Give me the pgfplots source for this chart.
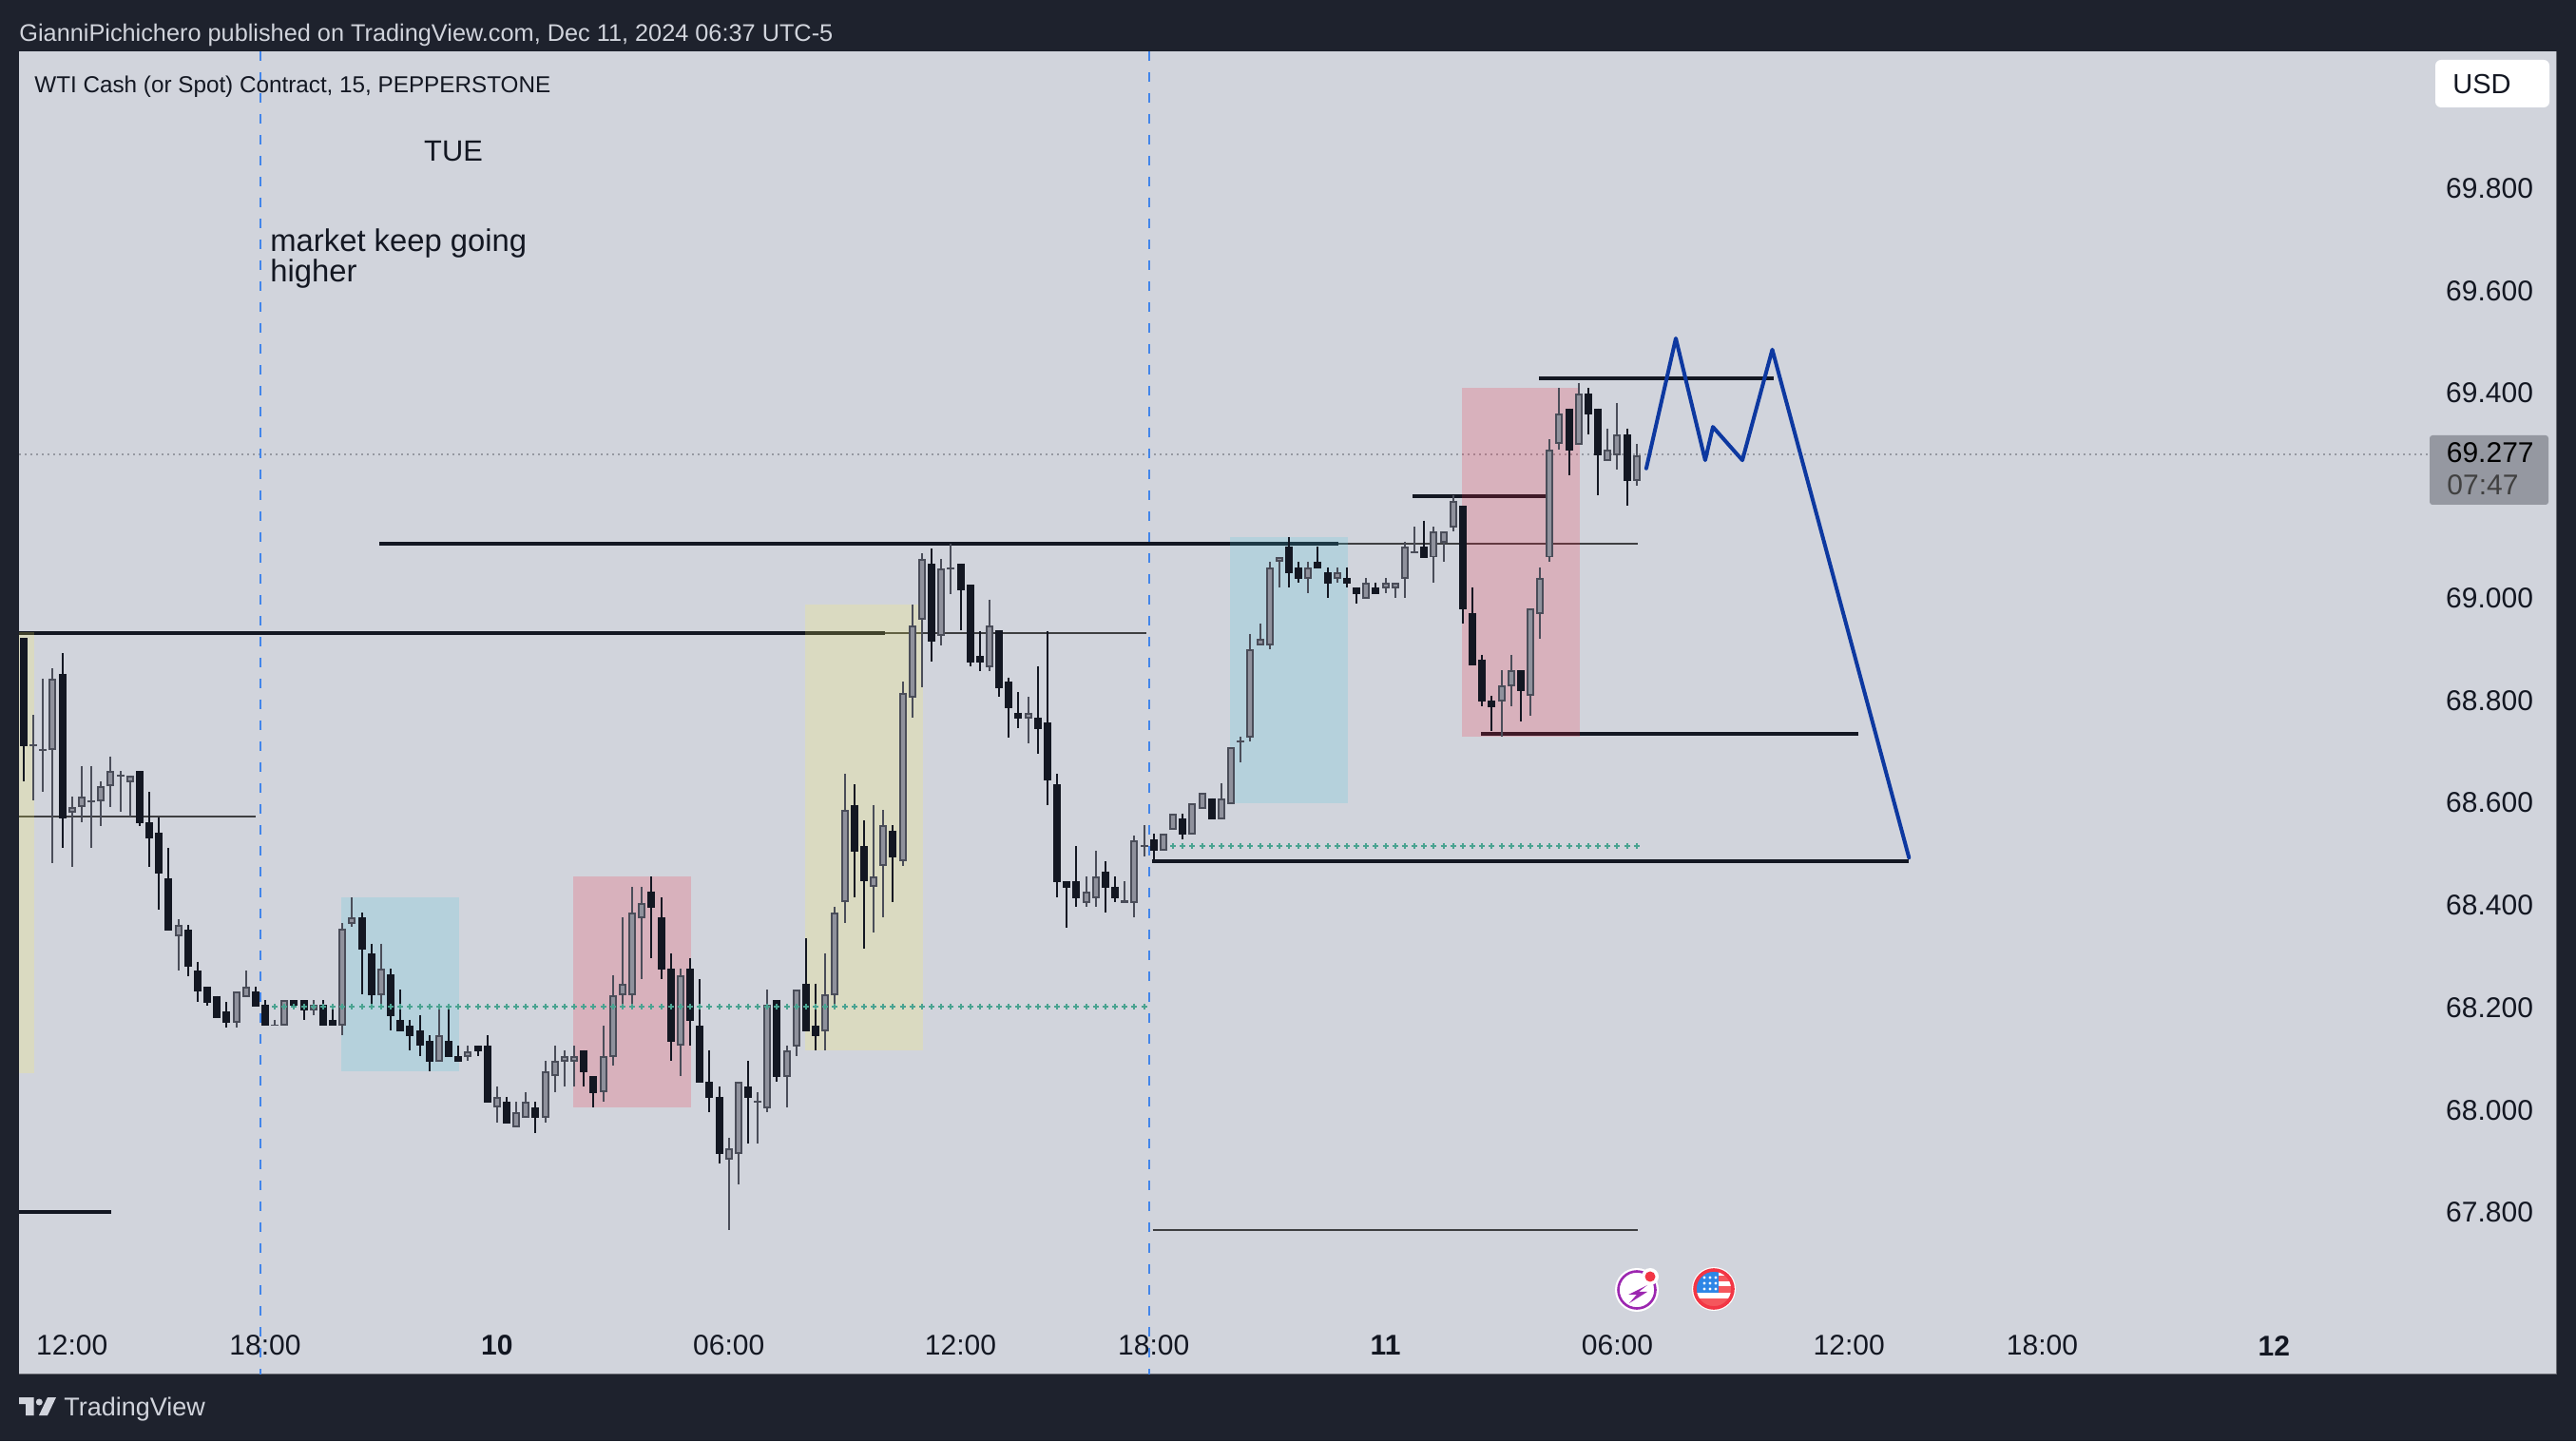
\documentclass[border=0pt]{standalone}
\usepackage{fontspec}
\setmainfont{Liberation Sans}
\usepackage{pgfplots}
\usepackage{pgfplotstable}
\pgfplotsset{compat=1.18}
\definecolor{outer}{HTML}{1E222D}
\definecolor{panel}{HTML}{D1D4DC}
\definecolor{ink}{HTML}{131722}
\definecolor{upedge}{HTML}{4A4D59}
\definecolor{upfill}{HTML}{8F919C}
\definecolor{teal}{HTML}{4AA391}
\definecolor{dashblue}{HTML}{4285EA}
\definecolor{navy}{HTML}{0D38A0}
\definecolor{zred}{RGB}{246,37,61}
\definecolor{zcyan}{RGB}{70,197,220}
\definecolor{zyel}{RGB}{255,243,85}
\definecolor{thin}{HTML}{4A4C58}
\definecolor{lastp}{HTML}{9598A1}
\definecolor{iconp}{HTML}{9C27B0}
\definecolor{iconr}{HTML}{F23645}
\definecolor{iconb}{HTML}{2E86E6}
\definecolor{iconl}{HTML}{F5565C}
\pgfplotstableread{
i h t b l
0 68.919 68.919 68.708 68.639
4 68.889 68.849 68.567 68.509
12 68.659 68.659 68.557 68.551
13 68.618 68.559 68.527 68.471
14 68.568 68.539 68.458 68.389
15 68.509 68.450 68.348 68.348
17 68.358 68.349 68.277 68.259
18 68.287 68.269 68.228 68.209
19 68.238 68.238 68.207 68.200
20 68.220 68.220 68.177 68.177
21 68.208 68.190 68.168 68.158
24 68.238 68.228 68.198 68.198
25 68.211 68.202 68.161 68.161
28 68.211 68.211 68.201 68.201
29 68.211 68.211 68.192 68.173
31 68.211 68.202 68.161 68.161
32 68.193 68.173 68.161 68.161
35 68.382 68.373 68.311 68.223
36 68.322 68.303 68.221 68.201
38 68.273 68.262 68.181 68.153
39 68.232 68.173 68.151 68.151
40 68.173 68.162 68.142 68.114
41 68.183 68.153 68.122 68.103
42 68.143 68.132 68.091 68.073
44 68.193 68.132 68.101 68.101
45 68.123 68.102 68.091 68.091
47 68.123 68.123 68.112 68.103
48 68.143 68.123 68.011 68.011
50 68.023 68.013 67.971 67.971
53 68.013 68.002 67.981 67.952
58 68.114 68.114 68.071 68.043
59 68.063 68.063 68.030 68.002
65 68.453 68.424 68.392 68.294
66 68.412 68.373 68.271 68.253
67 68.303 68.273 68.130 68.093
69 68.294 68.273 68.171 68.123
70 68.253 68.162 68.050 68.050
71 68.114 68.052 68.021 67.993
72 68.043 68.023 67.911 67.893
75 68.093 68.043 68.021 67.932
78 68.212 68.212 68.062 68.052
81 68.333 68.244 68.151 68.151
82 68.244 68.162 68.141 68.114
86 68.633 68.593 68.502 68.413
87 68.562 68.512 68.443 68.313
90 68.553 68.542 68.491 68.404
94 69.093 69.064 68.912 68.873
97 69.064 69.064 69.012 68.934
98 69.023 69.023 68.871 68.864
99 68.933 68.884 68.871 68.854
101 68.934 68.934 68.821 68.804
102 68.842 68.834 68.782 68.724
103 68.813 68.773 68.761 68.743
105 68.864 68.763 68.741 68.693
106 68.933 68.754 68.641 68.593
107 68.653 68.633 68.442 68.413
108 68.444 68.444 68.431 68.353
109 68.512 68.444 68.411 68.394
112 68.482 68.463 68.431 68.383
113 68.453 68.433 68.411 68.403
117 68.537 68.526 68.503 68.483
120 68.575 68.566 68.535 68.526
123 68.606 68.606 68.565 68.565
131 69.116 69.097 69.045 69.018
132 69.068 69.057 69.034 69.027
134 69.097 69.068 69.055 69.055
135 69.057 69.047 69.025 68.997
137 69.057 69.036 69.025 69.018
138 69.018 69.018 69.005 68.986
140 69.027 69.018 69.005 69.005
145 69.148 69.097 69.075 69.075
149 69.177 69.177 68.975 68.947
150 69.018 68.968 68.865 68.865
151 68.886 68.877 68.795 68.786
152 68.806 68.797 68.784 68.737
155 68.856 68.856 68.815 68.756
160 69.367 69.367 69.285 69.237
162 69.407 69.396 69.355 69.316
163 69.367 69.367 69.276 69.198
166 69.328 69.316 69.226 69.177
}\downbars
\pgfplotstableread{
i h t b l
1 68.768 68.712 68.708 68.601
2 68.839 68.702 68.698 68.619
3 68.859 68.839 68.700 68.480
5 68.609 68.588 68.578 68.471
6 68.669 68.609 68.588 68.559
7 68.669 68.602 68.598 68.509
8 68.639 68.629 68.599 68.551
9 68.688 68.659 68.629 68.589
10 68.659 68.652 68.648 68.580
11 68.650 68.650 68.637 68.571
16 68.369 68.358 68.337 68.270
22 68.228 68.228 68.168 68.158
23 68.269 68.238 68.218 68.218
26 68.173 68.164 68.161 68.161
27 68.211 68.211 68.161 68.161
30 68.211 68.202 68.192 68.183
33 68.362 68.352 68.161 68.143
34 68.412 68.373 68.360 68.354
37 68.322 68.273 68.221 68.193
43 68.193 68.143 68.091 68.091
46 68.123 68.112 68.101 68.094
49 68.043 68.022 68.002 67.973
51 68.013 67.992 67.963 67.963
52 68.032 68.013 67.981 67.981
54 68.093 68.072 67.981 67.973
55 68.123 68.093 68.063 68.032
56 68.114 68.102 68.092 68.043
57 68.123 68.102 68.092 68.043
60 68.162 68.102 68.031 68.013
61 68.261 68.222 68.101 68.083
62 68.373 68.243 68.222 68.202
63 68.433 68.382 68.222 68.194
64 68.433 68.402 68.372 68.253
68 68.273 68.261 68.122 68.063
73 67.943 67.922 67.900 67.763
74 68.052 68.052 67.911 67.852
76 68.032 68.015 68.011 67.932
77 68.232 68.202 68.000 67.993
79 68.123 68.114 68.062 68.002
80 68.232 68.232 68.121 68.102
83 68.303 68.223 68.151 68.114
84 68.394 68.382 68.222 68.202
85 68.653 68.583 68.403 68.363
88 68.593 68.453 68.432 68.344
89 68.583 68.553 68.473 68.374
91 68.833 68.812 68.482 68.474
92 68.984 68.943 68.803 68.763
93 69.084 69.073 68.954 68.823
95 69.073 69.054 68.922 68.904
96 69.102 69.057 69.053 69.005
100 68.994 68.943 68.862 68.854
104 68.804 68.773 68.761 68.713
110 68.453 68.423 68.401 68.394
111 68.503 68.453 68.411 68.394
114 68.443 68.406 68.402 68.402
115 68.533 68.523 68.402 68.374
116 68.553 68.515 68.511 68.492
118 68.536 68.536 68.503 68.503
119 68.575 68.575 68.545 68.545
121 68.596 68.596 68.535 68.535
122 68.616 68.616 68.585 68.585
124 68.636 68.605 68.565 68.565
125 68.705 68.705 68.595 68.595
126 68.726 68.719 68.715 68.676
127 68.927 68.896 68.724 68.717
128 68.947 68.917 68.904 68.904
129 69.068 69.056 68.904 68.897
130 69.076 69.076 69.067 69.018
133 69.068 69.056 69.034 69.007
136 69.057 69.047 69.034 69.027
139 69.036 69.026 68.995 68.995
141 69.036 69.026 69.016 69.007
142 69.026 69.026 69.016 68.997
143 69.107 69.097 69.034 68.997
144 69.136 69.088 69.084 69.084
146 69.136 69.127 69.076 69.027
147 69.127 69.127 69.104 69.068
148 69.198 69.187 69.135 69.127
153 68.856 68.826 68.795 68.726
154 68.886 68.856 68.825 68.786
156 68.976 68.976 68.805 68.767
157 69.057 69.036 68.966 68.917
158 69.307 69.286 69.076 69.068
159 69.407 69.357 69.297 69.287
161 69.417 69.396 69.296 69.296
164 69.328 69.286 69.265 69.265
165 69.378 69.316 69.276 69.248
167 69.298 69.276 69.226 69.216
}\upbars
\newcommand{\sz}[1]{\fontsize{#1}{#1}\selectfont}
\begin{document}
\begin{tikzpicture}
\fill[outer] (0,0) rectangle (1355pt,758pt);
\begin{axis}[
  at={(10pt,35pt)}, anchor=south west,
  scale only axis, width=1334.5pt, height=696pt,
  xmin=-0.49, xmax=262.2, ymin=67.4805, ymax=70.0645,
  axis background/.style={fill=panel},
  axis line style={color=lastp!70!black, line width=0.5pt},
  axis x line*=bottom, axis y line*=right,
  major tick length=0pt,
  xtick={5,25,49,73,97,117,141,165,189,209,233},
  xticklabels={12:00,18:00,\bfseries 10,06:00,12:00,18:00,\bfseries 11,06:00,12:00,18:00,\bfseries 12},
  xticklabel style={anchor=center, yshift=15.2pt, font=\sz{15}, text=ink},
  ytick={67.8,68,68.2,68.4,68.6,68.8,69,69.4,69.6,69.8},
  yticklabels={67.800,68.000,68.200,68.400,68.600,68.800,69.000,69.400,69.600,69.800},
  yticklabel style={anchor=east, xshift=-8.5pt, yshift=-0.8pt, font=\sz{15}, text=ink},
  clip=true,
]
% horizontal levels
\addplot[thin, line width=1pt, opacity=.7, forget plot] coordinates {(-0.49,68.570)(24,68.570)};
\addplot[thin, line width=1pt, opacity=.7, forget plot] coordinates {(89.2,68.929)(116.2,68.929)};
\addplot[thin, line width=1pt, opacity=.7, forget plot] coordinates {(136.1,69.103)(167.1,69.103)};
\addplot[thin, line width=1pt, opacity=.7, forget plot] coordinates {(116.9,67.763)(167.1,67.763)};
\addplot[ink, line width=2pt, forget plot] coordinates {(-0.49,68.929)(89.2,68.929)};
\addplot[ink, line width=2pt, forget plot] coordinates {(36.8,69.103)(136.1,69.103)};
\addplot[ink, line width=2pt, forget plot] coordinates {(-0.49,67.798)(9.05,67.798)};
\addplot[ink, line width=2pt, forget plot] coordinates {(116.8,68.483)(195.2,68.483)};
\addplot[ink, line width=2pt, forget plot] coordinates {(143.8,69.196)(157.7,69.196)};
\addplot[ink, line width=2pt, forget plot] coordinates {(150.9,68.732)(190,68.732)};
\addplot[ink, line width=2pt, forget plot] coordinates {(156.9,69.426)(181.2,69.426)};
% last price
\addplot[lastp, line width=1pt, dash pattern=on 1pt off 2pt, forget plot] coordinates {(-0.49,69.277)(249.1,69.277)};
% session separators
\addplot[dashblue, line width=1pt, dash pattern=on 5pt off 6pt, forget plot] coordinates {(24.5,70.0645)(24.5,67.4805)};
\addplot[dashblue, line width=1pt, dash pattern=on 5pt off 6pt, forget plot] coordinates {(116.5,70.0645)(116.5,67.4805)};
% dotted levels
\addplot[only marks, mark=+, mark size=1.5pt, teal, mark options={line width=1pt, color=teal}, forget plot] coordinates {
(26,68.199)(27,68.199)(28,68.199)(29,68.199)(30,68.199)(31,68.199)(32,68.199)(33,68.199)(34,68.199)(35,68.199)
(36,68.199)(37,68.199)(38,68.199)(39,68.199)(40,68.199)(41,68.199)(42,68.199)(43,68.199)(44,68.199)(45,68.199)
(46,68.199)(47,68.199)(48,68.199)(49,68.199)(50,68.199)(51,68.199)(52,68.199)(53,68.199)(54,68.199)(55,68.199)
(56,68.199)(57,68.199)(58,68.199)(59,68.199)(60,68.199)(61,68.199)(62,68.199)(63,68.199)(64,68.199)(65,68.199)
(66,68.199)(67,68.199)(68,68.199)(69,68.199)(70,68.199)(71,68.199)(72,68.199)(73,68.199)(74,68.199)(75,68.199)
(76,68.199)(77,68.199)(78,68.199)(79,68.199)(80,68.199)(81,68.199)(82,68.199)(83,68.199)(84,68.199)(85,68.199)
(86,68.199)(87,68.199)(88,68.199)(89,68.199)(90,68.199)(91,68.199)(92,68.199)(93,68.199)(94,68.199)(95,68.199)
(96,68.199)(97,68.199)(98,68.199)(99,68.199)(100,68.199)(101,68.199)(102,68.199)(103,68.199)(104,68.199)(105,68.199)
(106,68.199)(107,68.199)(108,68.199)(109,68.199)(110,68.199)(111,68.199)(112,68.199)(113,68.199)(114,68.199)(115,68.199)(116,68.199)
};
\addplot[only marks, mark=+, mark size=1.5pt, teal, mark options={line width=1pt, color=teal}, forget plot] coordinates {
(119,68.513)(120,68.513)(121,68.513)(122,68.513)(123,68.513)(124,68.513)(125,68.513)(126,68.513)(127,68.513)(128,68.513)
(129,68.513)(130,68.513)(131,68.513)(132,68.513)(133,68.513)(134,68.513)(135,68.513)(136,68.513)(137,68.513)(138,68.513)
(139,68.513)(140,68.513)(141,68.513)(142,68.513)(143,68.513)(144,68.513)(145,68.513)(146,68.513)(147,68.513)(148,68.513)
(149,68.513)(150,68.513)(151,68.513)(152,68.513)(153,68.513)(154,68.513)(155,68.513)(156,68.513)(157,68.513)(158,68.513)
(159,68.513)(160,68.513)(161,68.513)(162,68.513)(163,68.513)(164,68.513)(165,68.513)(166,68.513)(167,68.513)
};
% zones
\addplot[fill=zyel, fill opacity=.195, draw=none, forget plot] coordinates {(-0.49,68.930)(1.08,68.930)(1.08,68.069)(-0.49,68.069)} -- cycle;
\addplot[fill=zcyan, fill opacity=.195, draw=none, forget plot] coordinates {(32.87,68.412)(45.08,68.412)(45.08,68.073)(32.87,68.073)} -- cycle;
\addplot[fill=zred, fill opacity=.195, draw=none, forget plot] coordinates {(56.89,68.453)(69.09,68.453)(69.09,68.002)(56.89,68.002)} -- cycle;
\addplot[fill=zyel, fill opacity=.195, draw=none, forget plot] coordinates {(80.9,68.984)(93.11,68.984)(93.11,68.114)(80.9,68.114)} -- cycle;
\addplot[fill=zcyan, fill opacity=.195, draw=none, forget plot] coordinates {(124.9,69.116)(137.1,69.116)(137.1,68.596)(124.9,68.596)} -- cycle;
\addplot[fill=zred, fill opacity=.195, draw=none, forget plot] coordinates {(148.9,69.407)(161.1,69.407)(161.1,68.726)(148.9,68.726)} -- cycle;
% wicks
\addplot[draw=none, no marks, forget plot, error bars/.cd, y dir=minus, y explicit, error mark=none,
  error bar style={line width=1pt, draw=upedge, line cap=butt}]
  table[x=i, y=h, y error minus expr=\thisrow{h}-\thisrow{l}] {\upbars};
\addplot[draw=none, no marks, forget plot, error bars/.cd, y dir=minus, y explicit, error mark=none,
  error bar style={line width=1pt, draw=ink, line cap=butt}]
  table[x=i, y=h, y error minus expr=\thisrow{h}-\thisrow{l}] {\downbars};
% bodies
\addplot[draw=none, no marks, forget plot, error bars/.cd, y dir=minus, y explicit, error mark=none,
  error bar style={line width=4pt, draw=ink, line cap=butt}]
  table[x=i, y=t, y error minus expr=\thisrow{t}-\thisrow{b}] {\downbars};
\addplot[draw=none, no marks, forget plot, error bars/.cd, y dir=minus, y explicit, error mark=none,
  error bar style={line width=4pt, draw=upedge, line cap=butt}]
  table[x=i, y=t, y error minus expr=\thisrow{t}-\thisrow{b}] {\upbars};
\addplot[draw=none, no marks, forget plot, error bars/.cd, y dir=minus, y explicit, error mark=none,
  error bar style={line width=2pt, draw=upfill, line cap=butt}]
  table[x=i, y expr=\thisrow{t}-0.0037, y error minus expr={max(\thisrow{t}-\thisrow{b}-0.0074,0)}] {\upbars};
% projected path
\addplot[navy, line width=2pt, line join=round, line cap=round, forget plot] coordinates {
(168.0,69.250)(171.06,69.504)(174.1,69.266)(174.9,69.331)(177.95,69.266)(181.05,69.482)(195.2,68.490)};
\end{axis}
% decoration layer in image pixels
\begin{scope}[x=0.5pt, y=-0.5pt, yshift=758pt]
\node[anchor=base west, inner sep=0, text=panel, font=\sz{12.65}] at (20,44) {GianniPichichero published on TradingView.com, Dec 11, 2024 06:37 UTC-5};
\node[anchor=base west, inner sep=0, text=ink, font=\sz{12.13}] at (36,97.5) {WTI Cash (or Spot) Contract, 15, PEPPERSTONE};
\node[anchor=base, inner sep=0, text=ink, font=\sz{15.4}] at (477,170) {TUE};
\node[anchor=base west, inner sep=0, text=ink, font=\sz{16.4}] at (284,264.5) {market keep going};
\node[anchor=base west, inner sep=0, text=ink, font=\sz{16.4}] at (284,296.5) {higher};
% USD box
\fill[white, rounded corners=3pt] (2562,63) rectangle (2682,113);
\node[anchor=base west, inner sep=0, text=ink, font=\sz{14.5}] at (2580,98.5) {USD};
% last price tag
\fill[lastp, rounded corners=1.5pt] (2556,458) rectangle (2681,531);
\node[anchor=base east, inner sep=0, text=black, font=\sz{15}] at (2666,487) {69.277};
\node[anchor=base west, inner sep=0, text=black!75, font=\sz{15}] at (2574,521) {07:47};
% footer
\fill[panel] (20,1470) -- (35.6,1470) -- (35.6,1489) -- (27,1489) -- (27,1477) -- (20,1477) -- cycle;
\fill[panel] (41.3,1475) circle (3.5);
\fill[panel] (50,1470) -- (59,1470) -- (50,1489) -- (41,1489) -- cycle;
\node[anchor=base west, inner sep=0, text=panel, font=\sz{13.5}] at (67,1489) {TradingView};
% lightning icon
\fill[white] (1722,1357) circle (23);
\draw[iconp, line width=1.3pt] (1722,1357) circle (19.5);
\fill[iconp] (1733,1352) -- (1713,1362) -- (1721.7,1362) -- (1714,1371) -- (1733,1359) -- (1724,1359) -- cycle;
\fill[white] (1736,1343) circle (9);
\fill[iconr] (1736,1343) circle (5.5);
% flag icon
\fill[white] (1803,1356) circle (23);
\begin{scope}
\clip (1803,1356) circle (20);
\fill[white] (1780,1333) rectangle (1826,1379);
\fill[iconl] (1808,1342) rectangle (1826,1348);
\fill[iconl] (1808,1353) rectangle (1826,1360);
\fill[iconl] (1780,1366) rectangle (1826,1379);
\fill[iconb] (1780,1333) rectangle (1808,1360);
\foreach \sx in {1793,1799,1805} \foreach \sy in {1344,1350,1356} \fill[white] (\sx,\sy) circle (1.6);
\end{scope}
\draw[iconr, line width=1.8pt] (1803,1356) circle (20);
\end{scope}
\end{tikzpicture}
\end{document}
